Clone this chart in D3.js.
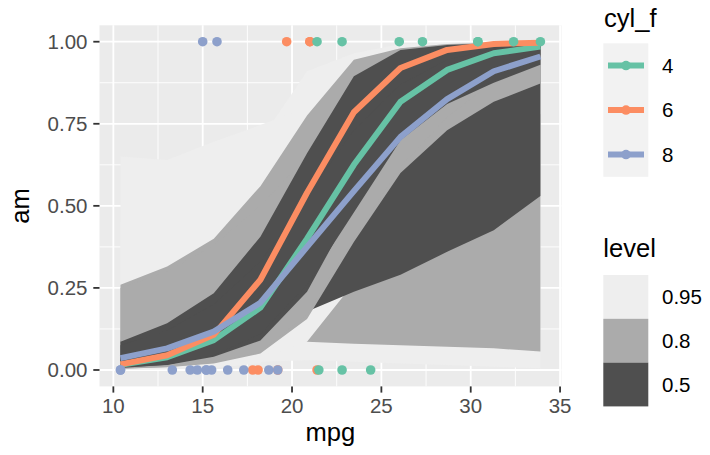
<!DOCTYPE html>
<html>
<head>
<meta charset="utf-8">
<style>
  body { margin: 0; background: #ffffff; }
  svg text { font-family: "Liberation Sans", Arial, Helvetica, sans-serif; }
</style>
<script src="https://cdn.jsdelivr.net/npm/d3@7/dist/d3.min.js"></script>
</head>
<body>
<svg id="chart" width="710" height="455"></svg>
<script>
// grid of mpg values the fitted curves were evaluated at
var mpgGrid = [10.4, 13.01, 15.62, 18.23, 20.84, 23.46, 26.07, 28.68, 31.29, 33.9];

// medians of the fitted probability, one per cyl
var med4 = [0.016, 0.039, 0.091, 0.19, 0.40, 0.625, 0.817, 0.914, 0.965, 0.985];
var med6 = [0.017, 0.045, 0.107, 0.275, 0.54, 0.785, 0.92, 0.975, 0.993, 0.997];
var med8 = [0.036, 0.066, 0.117, 0.205, 0.375, 0.545, 0.71, 0.825, 0.91, 0.955];

// interval bounds (lower / upper) for each cyl and level
var lo4_95 = [0.0005, 0.002, 0.006, 0.02, 0.19, 0.30, 0.50, 0.68, 0.80, 0.88];
var hi4_95 = [0.65, 0.64, 0.695, 0.746, 0.80, 0.88, 0.95, 0.98, 0.99, 0.995];
var lo4_80 = [0.004, 0.009, 0.022, 0.055, 0.17, 0.40, 0.62, 0.77, 0.88, 0.94];
var hi4_80 = [0.25, 0.30, 0.38, 0.50, 0.65, 0.80, 0.90, 0.96, 0.985, 0.993];
var lo4_50 = [0.006, 0.016, 0.045, 0.11, 0.26, 0.48, 0.70, 0.84, 0.92, 0.96];
var hi4_50 = [0.075, 0.12, 0.20, 0.33, 0.53, 0.73, 0.87, 0.945, 0.978, 0.99];

var lo6_95 = [0.001, 0.002, 0.005, 0.035, 0.086, 0.265, 0.45, 0.60, 0.70, 0.78];
var hi6_95 = [0.45, 0.50, 0.58, 0.70, 0.91, 0.965, 0.992, 0.997, 0.999, 1.0];
var lo6_80 = [0.004, 0.008, 0.02, 0.05, 0.155, 0.39, 0.60, 0.73, 0.817, 0.873];
var hi6_80 = [0.26, 0.315, 0.40, 0.56, 0.775, 0.945, 0.98, 0.993, 0.997, 0.999];
var lo6_50 = [0.008, 0.015, 0.04, 0.09, 0.238, 0.50, 0.70, 0.81, 0.875, 0.93];
var hi6_50 = [0.086, 0.142, 0.234, 0.406, 0.66, 0.895, 0.975, 0.99, 0.995, 0.997];

var lo8_95 = [0.003, 0.006, 0.012, 0.025, 0.03, 0.025, 0.02, 0.015, 0.01, 0.005];
var hi8_95 = [0.25, 0.33, 0.45, 0.62, 0.82, 0.93, 0.975, 0.99, 0.997, 0.999];
var lo8_80 = [0.01, 0.02, 0.04, 0.07, 0.086, 0.08, 0.075, 0.071, 0.066, 0.056];
var hi8_80 = [0.12, 0.17, 0.26, 0.42, 0.68, 0.85, 0.94, 0.975, 0.99, 0.995];
var lo8_50 = [0.015, 0.035, 0.075, 0.13, 0.178, 0.238, 0.29, 0.36, 0.426, 0.53];
var hi8_50 = [0.09, 0.14, 0.24, 0.42, 0.66, 0.82, 0.92, 0.965, 0.985, 0.995];

// observed cars (mtcars order)
var carMpg = [21.0, 21.0, 22.8, 21.4, 18.7, 18.1, 14.3, 24.4, 22.8, 19.2, 17.8, 16.4, 17.3, 15.2, 10.4, 10.4,
              14.7, 32.4, 30.4, 33.9, 21.5, 15.5, 15.2, 13.3, 19.2, 27.3, 26.0, 30.4, 15.8, 19.7, 15.0, 21.4];
var carAm  = [1, 1, 1, 0, 0, 0, 0, 0, 0, 0, 0, 0, 0, 0, 0, 0,
              0, 1, 1, 1, 0, 0, 0, 0, 0, 1, 1, 1, 1, 1, 1, 1];
var carCyl = [6, 6, 4, 6, 8, 6, 8, 4, 4, 6, 6, 8, 8, 8, 8, 8,
              8, 4, 4, 4, 4, 8, 8, 8, 8, 4, 4, 4, 8, 6, 8, 4];

var cylLevels = ["4", "6", "8"];
var cylColors = ["#66C2A5", "#FC8D62", "#8DA0CB"];
var levelNames = ["0.95", "0.8", "0.5"];
var levelColors = ["#EEEEEE", "#ABABAB", "#4F4F4F"];

var xTicks = [10, 15, 20, 25, 30, 35];
var yTicks = [0, 0.25, 0.5, 0.75, 1];

var svg = d3.select("#chart");

var x = d3.scaleLinear().domain([9.225, 35.075]).range([99.5, 561.4]);
var y = d3.scaleLinear().domain([-0.05, 1.05]).range([386.4, 25.3]);

var tickFont = 20.5, titleFont = 25.6;

// panel
svg.append("rect")
  .attr("x", x.range()[0]).attr("y", y.range()[1])
  .attr("width", x.range()[1] - x.range()[0])
  .attr("height", y.range()[0] - y.range()[1])
  .attr("fill", "#EBEBEB");

var xMinor = [12.5, 17.5, 22.5, 27.5, 32.5];
var yMinor = [0.125, 0.375, 0.625, 0.875];
var grid = svg.append("g");
grid.selectAll(".xmin").data(xMinor).enter().append("line")
  .attr("x1", d => x(d)).attr("x2", d => x(d))
  .attr("y1", y.range()[0]).attr("y2", y.range()[1])
  .attr("stroke", "#fff").attr("stroke-width", 0.9);
grid.selectAll(".ymin").data(yMinor).enter().append("line")
  .attr("y1", d => y(d)).attr("y2", d => y(d))
  .attr("x1", x.range()[0]).attr("x2", x.range()[1])
  .attr("stroke", "#fff").attr("stroke-width", 0.9);
grid.selectAll(".xmaj").data(xTicks).enter().append("line")
  .attr("x1", d => x(d)).attr("x2", d => x(d))
  .attr("y1", y.range()[0]).attr("y2", y.range()[1])
  .attr("stroke", "#fff").attr("stroke-width", 1.8);
grid.selectAll(".ymaj").data(yTicks).enter().append("line")
  .attr("y1", d => y(d)).attr("y2", d => y(d))
  .attr("x1", x.range()[0]).attr("x2", x.range()[1])
  .attr("stroke", "#fff").attr("stroke-width", 1.8);

// ribbons: widest (mean width) drawn first, like geom_lineribbon
var ribbons = [
  {cyl: "4", level: 0, lo: lo4_95, hi: hi4_95},
  {cyl: "4", level: 1, lo: lo4_80, hi: hi4_80},
  {cyl: "4", level: 2, lo: lo4_50, hi: hi4_50},
  {cyl: "6", level: 0, lo: lo6_95, hi: hi6_95},
  {cyl: "6", level: 1, lo: lo6_80, hi: hi6_80},
  {cyl: "6", level: 2, lo: lo6_50, hi: hi6_50},
  {cyl: "8", level: 0, lo: lo8_95, hi: hi8_95},
  {cyl: "8", level: 1, lo: lo8_80, hi: hi8_80},
  {cyl: "8", level: 2, lo: lo8_50, hi: hi8_50}
];
ribbons.forEach(r => { r.width = d3.mean(r.hi.map((h, i) => h - r.lo[i])); });
ribbons.sort((a, b) => b.width - a.width);

var area = d3.area()
  .x((d, i) => x(mpgGrid[i]))
  .y0(d => y(d[0]))
  .y1(d => y(d[1]));

svg.append("g").selectAll("path").data(ribbons).enter().append("path")
  .attr("d", r => area(r.lo.map((l, i) => [l, r.hi[i]])))
  .attr("fill", r => levelColors[r.level]);

// median lines
var meds = [med4, med6, med8];
var line = d3.line().x((d, i) => x(mpgGrid[i])).y(d => y(d));
svg.append("g").selectAll("path").data(meds).enter().append("path")
  .attr("d", d => line(d))
  .attr("fill", "none")
  .attr("stroke", (d, i) => cylColors[i])
  .attr("stroke-width", 6)
  .attr("stroke-linejoin", "round");

// observed points
svg.append("g").selectAll("circle").data(carMpg).enter().append("circle")
  .attr("cx", d => x(d))
  .attr("cy", (d, i) => y(carAm[i]))
  .attr("r", 4.8)
  .attr("fill", (d, i) => cylColors[cylLevels.indexOf(String(carCyl[i]))]);

// axes
var tickCol = "#333333", labCol = "#4D4D4D";
var xa = svg.append("g");
xa.selectAll("line").data(xTicks).enter().append("line")
  .attr("x1", d => x(d)).attr("x2", d => x(d))
  .attr("y1", y.range()[0]).attr("y2", y.range()[0] + 6.2)
  .attr("stroke", tickCol).attr("stroke-width", 1.8);
xa.selectAll("text").data(xTicks).enter().append("text")
  .attr("x", d => x(d)).attr("y", 412.5)
  .attr("text-anchor", "middle").attr("font-size", tickFont).attr("fill", labCol)
  .text(d => d);

var ya = svg.append("g");
ya.selectAll("line").data(yTicks).enter().append("line")
  .attr("x1", x.range()[0] - 6.2).attr("x2", x.range()[0])
  .attr("y1", d => y(d)).attr("y2", d => y(d))
  .attr("stroke", tickCol).attr("stroke-width", 1.8);
ya.selectAll("text").data(yTicks).enter().append("text")
  .attr("x", 87.5).attr("y", d => y(d) + 7.3)
  .attr("text-anchor", "end").attr("font-size", tickFont).attr("fill", labCol)
  .text(d => d3.format(".2f")(d));

svg.append("text")
  .attr("x", (x.range()[0] + x.range()[1]) / 2).attr("y", 441)
  .attr("text-anchor", "middle").attr("font-size", titleFont).attr("fill", "#000")
  .text("mpg");
svg.append("text")
  .attr("transform", "translate(28.5," + ((y.range()[0] + y.range()[1]) / 2) + ") rotate(-90)")
  .attr("text-anchor", "middle").attr("font-size", titleFont).attr("fill", "#000")
  .text("am");

// legend: cyl
var lg = svg.append("g");
lg.append("text").attr("x", 604).attr("y", 27).attr("font-size", titleFont).attr("fill", "#000").text("cyl_f");
var keyH = 44.5, keyTop = 43.3;
lg.append("rect").attr("x", 603.3).attr("y", keyTop).attr("width", 45).attr("height", keyH * 3).attr("fill", "#F2F2F2");
cylLevels.forEach(function(c, i) {
  var cy = keyTop + keyH * i + keyH / 2;
  lg.append("line").attr("x1", 608).attr("x2", 644).attr("y1", cy).attr("y2", cy)
    .attr("stroke", cylColors[i]).attr("stroke-width", 6);
  lg.append("circle").attr("cx", 626).attr("cy", cy).attr("r", 4.8).attr("fill", cylColors[i]);
  lg.append("text").attr("x", 662).attr("y", cy + 7.3).attr("font-size", tickFont).attr("fill", "#000").text(c);
});

// legend: level
var lv = svg.append("g");
lv.append("text").attr("x", 603.3).attr("y", 256.5).attr("font-size", titleFont).attr("fill", "#000").text("level");
var lvTop = 275, lvH = 43.8;
levelNames.forEach(function(l, i) {
  lv.append("rect").attr("x", 603.3).attr("y", lvTop + lvH * i).attr("width", 45).attr("height", lvH)
    .attr("fill", levelColors[i]);
  lv.append("text").attr("x", 662).attr("y", lvTop + lvH * i + lvH / 2 + 7.3)
    .attr("font-size", tickFont).attr("fill", "#000").text(l);
});
</script>
</body>
</html>
